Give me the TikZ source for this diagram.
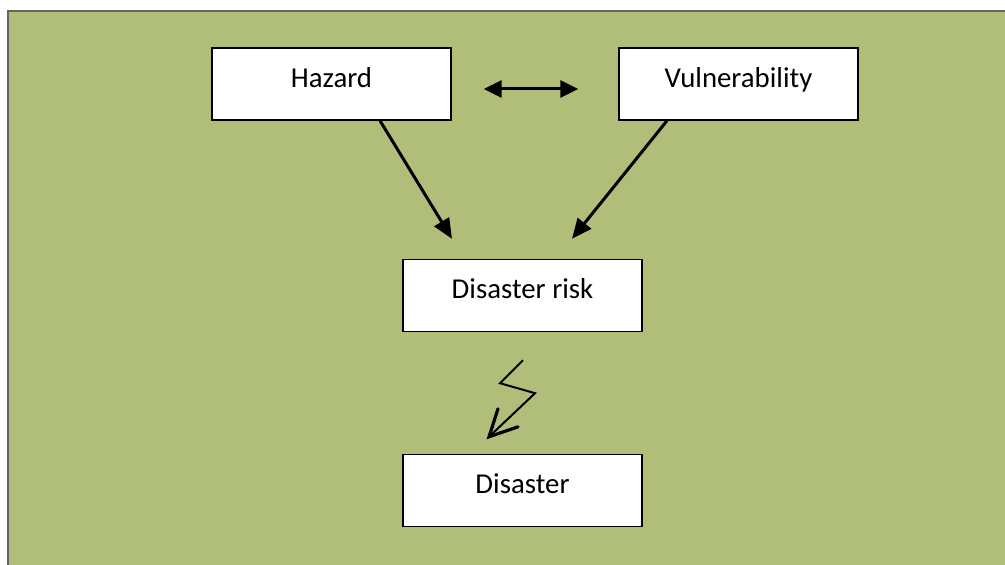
\documentclass[tikz,border=0pt]{standalone}
\usepackage{fontspec}
\setmainfont{Carlito}
\usetikzlibrary{arrows.meta,calc}
\definecolor{bggreen}{RGB}{176,190,122}
\definecolor{framegray}{RGB}{100,100,100}
\tikzset{
  box/.style={draw=black, line width=0.7pt, fill=white, minimum width=119.5pt, minimum height=36pt,
    inner sep=0pt, text height=10pt, text depth=6.8pt, font=\fontsize{14.4}{17}\selectfont},
  conn/.style={line width=1.5pt, -{Triangle[length=10pt,width=8.5pt]}},
  dconn/.style={line width=1.5pt, {Triangle[length=9pt,width=8.5pt]}-{Triangle[length=9pt,width=8.5pt]}},
  bolt/.style={line width=1pt, line join=miter},
  bolthead/.style={line width=1.6pt, line cap=round, line join=miter}
}
\begin{document}
\begin{tikzpicture}[x=0.5pt,y=-0.5pt]
\useasboundingbox (0,0) rectangle (1005,565);
\fill[white] (0,0) rectangle (1005,565);
\fill[bggreen] (8,11) rectangle (1012,572);
\draw[framegray, line width=1pt] (8,572) -- (8,11) -- (1012,11);
\node[box] (hazard) at (331.5,84) {Hazard};
\node[box] (vuln) at (738.5,84) {Vulnerability};
\node[box] (risk) at (522.5,295.5) {Disaster risk};
\node[box] (disaster) at (522.5,490.5) {Disaster};
\coordinate (hend) at ($(risk.north)+(-70.5,-20)$);
\coordinate (vend) at ($(risk.north)+(49.5,-20)$);
\draw[conn] ($(hazard.south)+(48.5,0)$) -- (hend);
\draw[conn] ($(vuln.south)+(-71.5,0)$) -- (vend);
\draw[dconn] ($(hazard.east)+(32,5)$) -- ($(vuln.west)+(-40,5)$);
\coordinate (b0) at ($(risk.south)+(0.5,28)$);
\coordinate (tip) at ($(disaster.north)+(-33.5,-17)$);
\draw[bolt] (b0) -- ($(b0)+(-23,23)$) -- ($(b0)+(12,33)$) -- (tip);
\draw[bolthead] ($(tip)+(9,-28)$) -- (tip) -- ($(tip)+(29,-10)$);
\end{tikzpicture}
\end{document}
